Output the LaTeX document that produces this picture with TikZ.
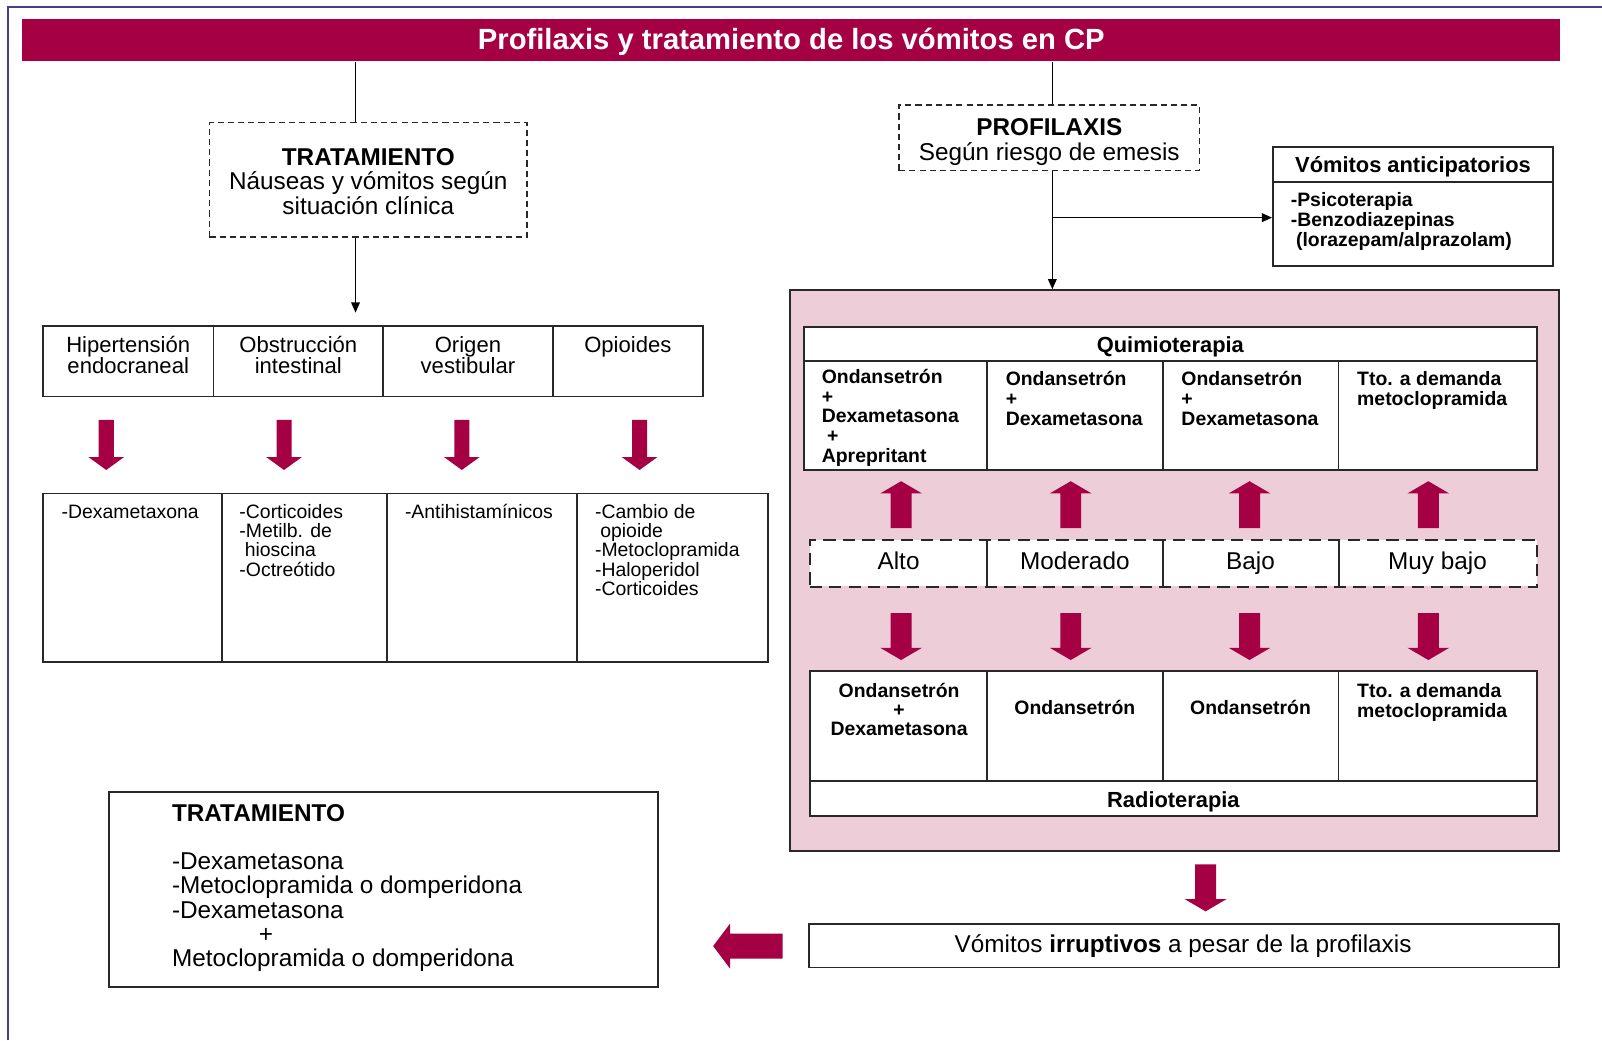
\documentclass[tikz,border=0pt]{standalone}
\usepackage{fontspec}
\setmainfont{Liberation Sans}
\usetikzlibrary{fit,arrows.meta}
\definecolor{crim}{RGB}{165,0,68}
\definecolor{pinkbg}{RGB}{236,205,216}
\definecolor{framec}{RGB}{76,60,140}
\definecolor{edge}{RGB}{40,40,40}
\begin{document}
\begin{tikzpicture}[x=0.5pt,y=-0.5pt,
  box/.style={draw=edge, line width=0.9pt, inner sep=0pt, fill=white},
  dbox/.style={draw=edge, line width=0.8pt, dash pattern=on 3pt off 2pt, inner sep=0pt, fill=white},
  rcell/.style={inner sep=0pt, fill=white},
  rframe/.style={draw=edge, line width=1.1pt, dash pattern=on 6pt off 3.5pt, inner sep=0pt},
  fbig/.style={font=\fontsize{11.9}{11.9}\selectfont},
  fmed/.style={font=\fontsize{10.8}{10.5}\selectfont},
  fmedb/.style={font=\bfseries\fontsize{10.7}{10.7}\selectfont},
  fsmall/.style={font=\fontsize{9.5}{9.5}\selectfont},
  fsmallb/.style={font=\bfseries\fontsize{9.5}{9.75}\selectfont},
  txt/.style={inner sep=0pt},
  conn/.style={draw=black, line width=0.75pt},
  arr/.style={-{Triangle[length=5pt,width=4.2pt]}},
  blkdown/.pic={\fill[crim] (-7.35,0) -- (7.35,0) -- (7.35,36.3) -- (17.5,36.3) -- (0,49) -- (-17.5,36.3) -- (-7.35,36.3) -- cycle;},
  bigdown/.pic={\fill[crim] (-10.25,0) -- (10.25,0) -- (10.25,34) -- (20.5,34) -- (0,46) -- (-20.5,34) -- (-10.25,34) -- cycle;},
  bigup/.pic={\fill[crim] (0,0) -- (20.5,12) -- (10.25,12) -- (10.25,46) -- (-10.25,46) -- (-10.25,12) -- (-20.5,12) -- cycle;},
  blkleft/.pic={\fill[crim] (0,0) -- (16.5,-22) -- (16.5,-12.25) -- (68,-12.25) -- (68,12.25) -- (16.5,12.25) -- (16.5,22) -- cycle;}
]
\fill[white] (0,0) rectangle (1568,1018);
\useasboundingbox (0,0) rectangle (1568,1018);
\draw[framec, line width=0.7pt] (8,1018) -- (8,7) -- (1568,7);

% title
\node[fit={(22,19)(1527,60)}, inner sep=0pt, fill=crim] (title) {};
\node[txt, anchor=base, text=white, font=\bfseries\fontsize{14.3}{14.3}\selectfont] (titlet) at (774.5,48.3) {Profilaxis y tratamiento de los vómitos en CP};

% left branch
\node[dbox, fit={(205,120)(516,232)}] (trat) {};
\node[txt, fbig, align=center, anchor=base] (tratt) at (360.5,209.6) {\textbf{TRATAMIENTO}\\Náuseas y vómitos según\\situación clínica};
\coordinate (c1) at (348,0);
\coordinate (c2) at (348,306);
\draw[conn] (title.south -| c1) -- (trat.north -| c1);
\draw[conn, arr] (trat.south -| c1) -- (c2);

\node[box, fit={(42,319)(209,388)}] (h1) {};
\node[box, fit={(209,319)(375,388)}] (h2) {};
\node[box, fit={(375,319)(541,388)}] (h3) {};
\node[box, fit={(541,319)(688,388)}] (h4) {};
\node[txt, fmed, align=center, anchor=base] (h1t) at (125.5,366) {Hipertensión\\endocraneal};
\node[txt, fmed, align=center, anchor=base] (h2t) at (292,366) {Obstrucción\\intestinal};
\node[txt, fmed, align=center, anchor=base] (h3t) at (458,366) {Origen\\vestibular};
\node[txt, fmed, anchor=base] (h4t) at (614.5,345) {Opioides};

\pic (ra1) at (104,411) {blkdown};
\pic (ra2) at (278,411) {blkdown};
\pic (ra3) at (452,411) {blkdown};
\pic (ra4) at (626,411) {blkdown};

\node[box, fit={(42,483)(217,648)}] (d1) {};
\node[box, fit={(217,483)(379,648)}] (d2) {};
\node[box, fit={(379,483)(565,648)}] (d3) {};
\node[box, fit={(565,483)(752,648)}] (d4) {};
\node[txt, fsmall, anchor=base west] (d1t) at (60,507) {-Dexametaxona};
\node[txt, fsmall, align=left, anchor=base west] (d2t) at (234,564) {-Corticoides\\-Metilb. de\\\hspace*{2.6pt}hioscina\\-Octreótido};
\node[txt, fsmall, anchor=base west] (d3t) at (396,507) {-Antihistamínicos};
\node[txt, fsmall, align=left, anchor=base west] (d4t) at (582,583) {-Cambio de\\\hspace*{2.6pt}opioide\\-Metoclopramida\\-Haloperidol\\-Corticoides};

% right branch
\node[dbox, fit={(880,103)(1174,167)}] (prof) {};
\node[txt, fbig, align=center, anchor=base] (proft) at (1027,156.6) {\textbf{PROFILAXIS}\\Según riesgo de emesis};
\node[box, fit={(1246,144)(1520,178)}] (vah) {};
\node[txt, fmedb, anchor=base] (vaht) at (1383,168.7) {Vómitos anticipatorios};
\node[box, fit={(1246,178)(1520,260)}] (vab) {};
\node[txt, fsmallb, align=left, anchor=base west] (vabt) at (1263,241) {-Psicoterapia\\-Benzodiazepinas\\\hspace*{2.6pt}(lorazepam/alprazolam)};

\node[draw=edge, line width=0.9pt, fill=pinkbg, inner sep=0pt, fit={(773,284)(1526,833)}] (pink) {};

\coordinate (c4) at (1030,0);
\coordinate (c3) at (1030,213);
\draw[conn] (title.south -| c4) -- (prof.north -| c4);
\draw[conn, arr] (prof.south -| c4) -- (pink.north -| c4);
\draw[conn, arr] (c3) -- (c3 -| vab.west);

\node[box, fit={(787,320)(1504,353)}] (qh) {};
\node[txt, fmedb, anchor=base] (qht) at (1145.5,344.7) {Quimioterapia};
\node[box, fit={(787,353)(966,460)}] (q1) {};
\node[box, fit={(966,353)(1138,460)}] (q2) {};
\node[box, fit={(1138,353)(1310,460)}] (q3) {};
\node[box, fit={(1310,353)(1504,460)}] (q4) {};
\node[txt, fsmallb, align=left, anchor=base west] (q1t) at (804,453) {Ondansetrón\\+\\Dexametasona\\\hspace*{2.6pt}+\\Aprepritant};
\node[txt, fsmallb, align=left, anchor=base west] (q2t) at (984,416) {Ondansetrón\\+\\Dexametasona};
\node[txt, fsmallb, align=left, anchor=base west] (q3t) at (1156,416) {Ondansetrón\\+\\Dexametasona};
\node[txt, fsmallb, align=left, anchor=base west] (q4t) at (1328,396.5) {Tto. a demanda\\metoclopramida};

\pic (ua1) at (882,471) {bigup};
\pic (ua2) at (1048,471) {bigup};
\pic (ua3) at (1223,471) {bigup};
\pic (ua4) at (1398,471) {bigup};

\node[rcell, fit={(793,529)(966,574)}] (r1) {};
\node[rcell, fit={(966,529)(1138,574)}] (r2) {};
\node[rcell, fit={(1138,529)(1310,574)}] (r3) {};
\node[rcell, fit={(1310,529)(1504,574)}] (r4) {};
\node[rframe, fit={(r1)(r4)}] (rrow) {};
\draw[edge, line width=1pt] (r1.north east) -- (r1.south east);
\draw[edge, line width=1pt] (r2.north east) -- (r2.south east);
\draw[edge, line width=1pt] (r3.north east) -- (r3.south east);
\node[txt, fbig, anchor=base] (r1t) at (879.5,557.6) {Alto};
\node[txt, fbig, anchor=base] (r2t) at (1052,557.6) {Moderado};
\node[txt, fbig, anchor=base] (r3t) at (1224,557.6) {Bajo};
\node[txt, fbig, anchor=base] (r4t) at (1407,557.6) {Muy bajo};

\pic (da1) at (882,600) {bigdown};
\pic (da2) at (1048,600) {bigdown};
\pic (da3) at (1223,600) {bigdown};
\pic (da4) at (1398,600) {bigdown};

\node[box, fit={(793,657)(966,764)}] (b1) {};
\node[box, fit={(966,657)(1138,764)}] (b2) {};
\node[box, fit={(1138,657)(1310,764)}] (b3) {};
\node[box, fit={(1310,657)(1504,764)}] (b4) {};
\node[box, fit={(793,764)(1504,799)}] (rad) {};
\node[txt, fmedb, anchor=base] (radt) at (1148.5,790.7) {Radioterapia};
\node[txt, font=\bfseries\fontsize{9.5}{9.25}\selectfont, align=center, anchor=base] (b1t) at (880,720) {Ondansetrón\\+\\Dexametasona};
\node[txt, fsmallb, anchor=base] (b2t) at (1052,699.8) {Ondansetrón};
\node[txt, fsmallb, anchor=base] (b3t) at (1224,699.8) {Ondansetrón};
\node[txt, fsmallb, align=left, anchor=base west] (b4t) at (1328,702.5) {Tto. a demanda\\metoclopramida};

\pic (ba) at (1180,846) {bigdown};

\node[box, fit={(792,904)(1526,947)}] (irr) {};
\node[txt, fbig, anchor=base] (irrt) at (1158,932.6) {Vómitos \textbf{irruptivos} a pesar de la profilaxis};

\pic (la) at (698,926) {blkleft};

\node[box, fit={(107,775)(644,966)}] (bt) {};
\node[txt, fbig, align=left, anchor=base west] (btt) at (168,946.4) {\textbf{TRATAMIENTO}\\[11.9pt]-Dexametasona\\-Metoclopramida o domperidona\\-Dexametasona\\\hspace*{42.5pt}+\\Metoclopramida o domperidona};
\end{tikzpicture}
\end{document}
